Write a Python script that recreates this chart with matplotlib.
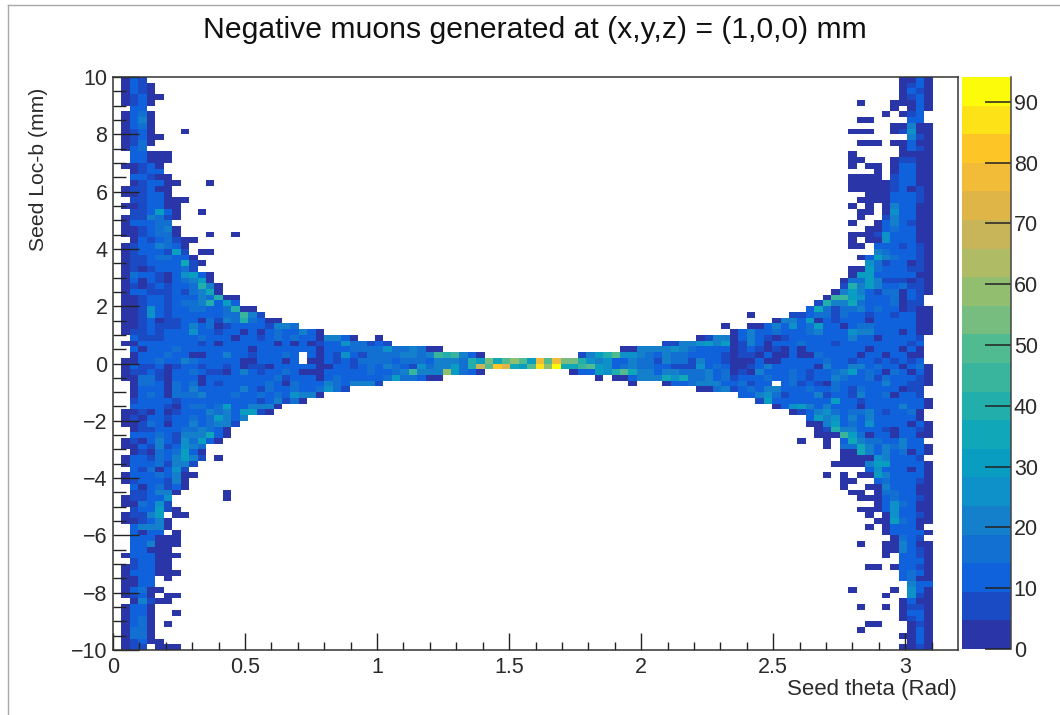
import matplotlib
matplotlib.use("Agg")
import matplotlib.pyplot as plt
import numpy as np
from matplotlib.colors import BoundaryNorm, ListedColormap
from matplotlib.lines import Line2D

plt.rcParams['font.family'] = ['Liberation Sans', 'DejaVu Sans']

# histogram, one string per row, top row first
# char = colour band of the palette (1-9, a=10 ... k=20), '.' = empty bin, spaces ignored
upper_left = [
    "132", "1321", "1321", "12311", "1231", ".33", "1341", "1351", "1341", "1231...1",
    "12311", "1241", "134", ".33111", ".33111", "11231", ".1233", ".33211", ".123311...1", "122311",
    "112331", ".2233111", "1123311", ".223731..1", "1225421", "133344", "1123451", "1123441...1..1",
    ".13234211", "12335431", "12333272.11", "122344331", "1223333821", "121233342", "14332136731",
    "13132134571", "121232334951", "133222324581", "11233233354911", "11233234459373",
    "1126323344334911", "11263233333344a52", "1123122331425494311", "112322235341233332554",
    "12232333633233131343 3531",
    ".3222 33334 33313 32343 4331 5531 ..1",
    "11333 33332 31333 33313 13123 36442 32",
    ".3133 34333 33333 13333 33313 33444 46445 411",
    ".1333 43311 33533 23334 3.313 26324 44455 45a9a 531",
    "11334 33543 33331 13331 3.113 23244 44344 43555 497",
]
lower_left = [
    "13223 12332 33231 22133 33311 33234 35432 64557 49f",
    "12232 13343 22135 32334 31113 33334 3345a 555d7 431",
    "11442 13331 33333 33342 33313 43333 34744 311",
    ".1443 14341 32333 33431 43335 43555 2",
    ".1333 14353 33335 32433 43346 42",
    ".1343 14445 33343 34343 6551",
    ".2333 32333 33333 32352 41",
    ".3333 21344 34733 5551",
    "11213 12333 54537 721",
    "12133 23343 47535",
    "11243 13353 4552",
    ".1223 33445 431",
    ".3334 32555 831",
    "12135 32647 31",
    "11325 23654",
    ".1214 34731",
    "13324 35752 .1",
    "133342552",
    ".3241362",
    "133343511",
    "12333251",
    ".3134231",
    ".223551.....1",
    "122336......1",
    "114362",
    ".233721",
    "12257.11",
    "112351",
    ".35551",
    ".3133.1",
    ".333111",
    ".335111",
    ".33111",
    "1333111",
    ".23311",
    "123311",
    "1333111",
    "1133.1",
    "1133",
    "13411",
    "1231.11",
    ".15211",
    "1331",
    "1331..1",
    "1341",
    "1341.1",
    "1441",
    "1441",
    "12311",
    "122.111",
]
# the narrow part in the middle, columns 44 to 54 of the two rows around y=0
center_top = "c8bdb7hbhcc"
center_bottom = "big87bjdk88"

# right wing, each string ends at column 96
upper_right = [
    "1131", "1231", "1321", "1231", "1...11131", "1.131", "1.123.", "11....33.", "11511", "111..12611",
    "521", "111.11311", "1321", "1.....1111", "11...12211", "1.11.13311", "1.13311", "1111.23311",
    "1111123311", "1111123121", "11133321", "111133321", "1.1.153311", "11.163311", "1..253311",
    "1..1353211", "11343311", "1112633311", "1.11633311", "11.3332321", "5433321", "137543321",
    "64233121", "1174333221", "1773333311", "14475222121", "29575334221", "157532441321",
    "1aa763334132.", "2955843334122.", "384244534331211", "1....22344243323323311",
    "1553713233313333311",
    "1..11 35363 47331 34433 33311",
    "1353 34333 45333 65533 31311",
    "12551353 21233 33333 53313 3332.",
    "22556 75712 53 13334 33323 33333 3323.",
    "11555 56543 33312 32 12131 33333 33133 3131.",
    "2579b 66543 54433 33212 21 31131 14333 31331 3311.",
    "96563 35442 54425 33211 13 11333 33433 23323 2323.",
]
lower_right = [
    "ab763 45443 32226 34311 23 53333 31533 55343 31341",
    "133769 b8553 55444 53412 15 33343 23345 73431 43131",
    "1.113 55586 84453 42333 43343 23354 33424 33321",
    "1...1 33455 53342 3 3.342 32143 33335 33221",
    "11452343 55333 43343 24333 3122.",
    "335 64233 35233 25334 1332.",
    "2 73333 33373 32333 33331",
    "1367535333133335331",
    "1235643445323341.",
    "37563535333331.",
    "115734363333131",
    "12955333213321",
    "111a7413313311",
    "1..1.3854433533.",
    "1.44853545331",
    "11853534131",
    "1111653332.",
    "111157733331",
    "36333131",
    "1.1.117533331",
    "11..3433321",
    "1..11533311",
    "11.1443311",
    "111343321",
    "1364311",
    "111363311",
    "1.163321",
    "1174311",
    "1.13331.",
    "133331",
    "1432.",
    "1..115311",
    "115321",
    "1.3321",
    "3331",
    "11.13321",
    "3431",
    "3411",
    "533",
    "1....1.631",
    "1..621",
    "1311",
    "1..1.1221",
    "1331",
    "1231",
    "11...121",
    "1.....131",
    "1131",
    "131",
    "1121",
]

xticks = [0, 0.5, 1, 1.5, 2, 2.5, 3]
xticklabels = ["0", "0.5", "1", "1.5", "2", "2.5", "3"]
yticks = [-10, -8, -6, -4, -2, 0, 2, 4, 6, 8, 10]
yticklabels = ["\u221210", "\u22128", "\u22126", "\u22124", "\u22122", "0", "2", "4", "6", "8", "10"]
cbar_ticks = [0, 10, 20, 30, 40, 50, 60, 70, 80, 90]

band_colors = ["#2a36a8", "#1a4bc4", "#1061dc", "#1270d2", "#1480cc", "#0e90c8", "#0a9dc2", "#10a7b8",
               "#22aeaa", "#38b59c", "#50ba90", "#78bd80", "#92be70", "#b0bb65", "#c8b55a", "#e0b548",
               "#f2bb38", "#fdc526", "#fde218", "#fbfb0a"]
z_max = 94.1
band_width = z_max / len(band_colors)
n_x, n_y = 100, 100
bin_x = 0.032
chars = "123456789abcdefghijk"


def clean(s):
    return s.replace(" ", "")


# rows -> 2D array of counts (middle of the band)
grid = np.full((n_y, n_x), np.nan)
left_rows = upper_left + lower_left
right_rows = upper_right + lower_right
for r in range(n_y):
    for c, ch in enumerate(clean(left_rows[r])):
        if ch != ".":
            grid[r, 1 + c] = (chars.index(ch) + 0.5) * band_width
    s = clean(right_rows[r])
    for c, ch in enumerate(s):
        if ch != ".":
            grid[r, 97 - len(s) + c] = (chars.index(ch) + 0.5) * band_width
for r, s in [(49, center_top), (50, center_bottom)]:
    for c, ch in enumerate(s):
        grid[r, 44 + c] = (chars.index(ch) + 0.5) * band_width

x_edges = np.arange(n_x + 1) * bin_x
y_edges = 10 - np.arange(n_y + 1) * 0.2

W, H = 1060.0, 715.0
fig = plt.figure(figsize=(W / 100, H / 100), dpi=100, facecolor="white")
ax = fig.add_axes([113 / W, 1 - 650 / H, (958 - 113) / W, (650 - 77) / H])

levels = np.linspace(0, z_max, len(band_colors) + 1)
cmap = ListedColormap(band_colors)
norm = BoundaryNorm(levels, cmap.N)
mesh = ax.pcolormesh(x_edges, y_edges, np.ma.masked_invalid(grid), cmap=cmap, norm=norm,
                     antialiased=False, linewidth=0, rasterized=True)

text_col = "#2a2a2a"
frame_col = "#222222"
ax.set_xlim(0, 3.2)
ax.set_ylim(-10, 10)
ax.set_xticks(xticks)
ax.set_xticklabels(xticklabels)
ax.set_yticks(yticks)
ax.set_yticklabels(yticklabels)
ax.set_xticks(np.arange(0, 3.2, 0.1), minor=True)
ax.set_yticks(np.arange(-10, 10.01, 0.5), minor=True)
ax.tick_params(axis="x", which="major", direction="in", length=12, width=1.0, labelsize=15.5,
               pad=5, colors=frame_col, labelcolor=text_col)
ax.tick_params(axis="x", which="minor", direction="in", length=6, width=1.0, colors=frame_col)
ax.tick_params(axis="y", which="major", direction="in", length=19, width=1.0, labelsize=15.5,
               pad=4, colors=frame_col, labelcolor=text_col)
ax.tick_params(axis="y", which="minor", direction="in", length=9.5, width=1.0, colors=frame_col)
for sp in ax.spines.values():
    sp.set_linewidth(1.1)
    sp.set_color("#333333")

# colour bar on the right
cax = fig.add_axes([961.5 / W, 1 - 649 / H, (1011 - 961.5) / W, (649 - 77) / H])
cax.pcolormesh([0, 1], levels, ((levels[:-1] + levels[1:]) / 2).reshape(-1, 1), cmap=cmap, norm=norm,
               antialiased=False, rasterized=True)
cax.set_xlim(0, 1)
cax.set_ylim(0, z_max)
cax.set_xticks([])
cax.yaxis.tick_right()
cax.set_yticks(cbar_ticks)
cax.tick_params(axis="y", direction="in", length=19, width=1.1, labelsize=15.5, pad=2,
                colors=frame_col, labelcolor=text_col)
for name, sp in cax.spines.items():
    sp.set_visible(name == "right")
    sp.set_color("#444444")
    sp.set_linewidth(1.1)

fig.text(535 / W, 1 - 30 / H, "Negative muons generated at (x,y,z) = (1,0,0) mm", fontsize=21.7,
         ha="center", va="center", color="#111111")
fig.text(957 / W, 1 - 689 / H, "Seed theta (Rad)", fontsize=16, ha="right", va="center", color=text_col)
fig.text(39 / W, 1 - 88 / H, "Seed Loc-b (mm)", fontsize=15.2, rotation=90, ha="center", va="top", color=text_col)

# canvas border of the screenshot
border = "#a8a8a8"
fig.add_artist(Line2D([7.5 / W, 7.5 / W], [0, 1 - 5 / H], color=border, lw=1.0))
fig.add_artist(Line2D([7.5 / W, 1], [1 - 5 / H, 1 - 5 / H], color=border, lw=1.0))

fig.savefig("out.png", dpi=100)
